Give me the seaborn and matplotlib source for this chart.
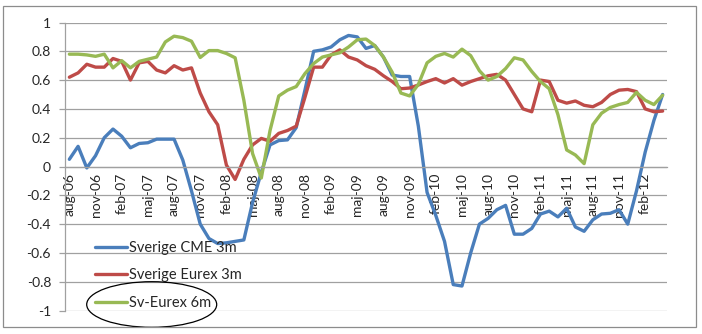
import matplotlib
matplotlib.use("Agg")
import matplotlib.pyplot as plt
import seaborn as sns
import pandas as pd
import numpy as np
from matplotlib.patches import Ellipse, Rectangle

# ---- data -------------------------------------------------------------
sv_months = ["jan", "feb", "mar", "apr", "maj", "jun", "jul", "aug",
             "sep", "okt", "nov", "dec"]
categories = [f"{sv_months[(7 + i) % 12]}-{6 + (7 + i) // 12:02d}" for i in range(69)]

tick_labels = ["aug-06", "nov-06", "feb-07", "maj-07", "aug-07", "nov-07",
               "feb-08", "maj-08", "aug-08", "nov-08", "feb-09", "maj-09",
               "aug-09", "nov-09", "feb-10", "maj-10", "aug-10", "nov-10",
               "feb-11", "maj-11", "aug-11", "nov-11", "feb-12"]

series_names = ["Sverige CME 3m", "Sverige Eurex 3m", "Sv-Eurex 6m"]

cme_3m = [0.05, 0.14, -0.01, 0.075, 0.2, 0.26, 0.21, 0.13, 0.16, 0.165,
          0.19, 0.19, 0.19, 0.045, -0.17, -0.4, -0.5, -0.535, -0.53, -0.52,
          -0.51, -0.25, -0.04, 0.15, 0.18, 0.185, 0.27, 0.53, 0.8, 0.81,
          0.83, 0.88, 0.91, 0.9, 0.82, 0.84, 0.76, 0.635, 0.625, 0.625,
          0.28, -0.18, -0.34, -0.52, -0.82, -0.83, -0.6, -0.4, -0.36, -0.3,
          -0.27, -0.47, -0.47, -0.43, -0.33, -0.31, -0.35, -0.29, -0.42, -0.45,
          -0.37, -0.33, -0.325, -0.3, -0.4, -0.17, 0.1, 0.32, 0.5]

eurex_3m = [0.62, 0.65, 0.71, 0.69, 0.69, 0.75, 0.73, 0.60, 0.72, 0.73,
            0.67, 0.65, 0.70, 0.67, 0.685, 0.51, 0.38, 0.29, 0.01, -0.09,
            0.05, 0.15, 0.195, 0.175, 0.23, 0.25, 0.28, 0.48, 0.69, 0.69,
            0.775, 0.81, 0.76, 0.74, 0.70, 0.675, 0.63, 0.59, 0.54, 0.545,
            0.566, 0.59, 0.61, 0.58, 0.61, 0.565, 0.59, 0.61, 0.63, 0.64,
            0.60, 0.50, 0.40, 0.38, 0.60, 0.59, 0.46, 0.44, 0.455, 0.425,
            0.415, 0.445, 0.50, 0.53, 0.535, 0.52, 0.40, 0.38, 0.385]

eurex_6m = [0.78, 0.78, 0.775, 0.765, 0.78, 0.685, 0.735, 0.685, 0.73, 0.745,
            0.76, 0.865, 0.905, 0.895, 0.87, 0.757, 0.805, 0.805, 0.785, 0.755,
            0.46, 0.09, -0.08, 0.25, 0.49, 0.53, 0.555, 0.645, 0.715, 0.76,
            0.775, 0.79, 0.83, 0.88, 0.885, 0.84, 0.76, 0.655, 0.51, 0.49,
            0.57, 0.72, 0.765, 0.785, 0.76, 0.815, 0.77, 0.665, 0.60, 0.625,
            0.68, 0.755, 0.74, 0.66, 0.59, 0.54, 0.36, 0.115, 0.08, 0.02,
            0.29, 0.37, 0.41, 0.43, 0.445, 0.515, 0.46, 0.43, 0.495]

colors = ["#4A7EBB", "#BE4B48", "#98B954"]

# ---- build long table --------------------------------------------------
frames = []
for name, vals in zip(series_names, [cme_3m, eurex_3m, eurex_6m]):
    frames.append(pd.DataFrame({"idx": np.arange(len(categories)),
                                "month": categories,
                                "value": vals,
                                "series": name}))
df = pd.concat(frames, ignore_index=True)

# ---- plot ---------------------------------------------------------------
sns.set_style("white")
plt.rcParams['font.family'] = ['Lato', 'DejaVu Sans']

W, H = 702, 334
fig = plt.figure(figsize=(W / 100, H / 100), dpi=100)
ax = fig.add_axes([65 / W, (H - 310.5) / H, 602 / W, 288 / H])

sns.lineplot(data=df, x="idx", y="value", hue="series", hue_order=series_names,
             palette=colors, linewidth=2.4, sort=False, estimator=None, ax=ax)
for ln in ax.lines:
    ln.set_solid_joinstyle("round")
    ln.set_solid_capstyle("round")

grid_c = "#A0A0A0"
ax.set_xlim(-0.5, len(categories) - 0.5)
ax.set_ylim(-1, 1)

yt = np.round(np.arange(-1, 1.001, 0.2), 1)
ax.set_yticks(yt)
ax.set_yticklabels([("%g" % v) if v != 0 else "0" for v in yt], fontsize=10)
ax.yaxis.grid(True, color=grid_c, lw=0.9)
ax.set_axisbelow(True)

# x axis crossing at zero
for s in ["top", "right"]:
    ax.spines[s].set_visible(False)
ax.spines["bottom"].set_position(("data", 0))
ax.spines["bottom"].set_color(grid_c)
ax.spines["bottom"].set_linewidth(0.9)
ax.spines["left"].set_color(grid_c)
ax.spines["left"].set_linewidth(0.9)

ax.set_xticks(np.arange(-0.5, len(categories), 3))
ax.set_xticklabels([])
ax.set_xticks(np.arange(0, len(categories), 3)[:len(tick_labels)], minor=True)
ax.set_xticklabels(tick_labels, minor=True, rotation=90, fontsize=10,
                   va="top", ha="center")
ax.tick_params(axis="x", which="major", direction="out", length=4,
               width=0.9, color=grid_c)
ax.tick_params(axis="x", which="minor", length=0, pad=4.5)
ax.tick_params(axis="y", direction="out", length=4, width=0.9, color=grid_c,
               pad=6, left=True)
ax.set_xlabel("")
ax.set_ylabel("")

# legend
handles, labels = ax.get_legend_handles_labels()
ax.legend(handles, labels, loc="center left",
          bbox_to_anchor=(95 / W, (H - 275.5) / H), bbox_transform=fig.transFigure,
          frameon=False, borderpad=0, borderaxespad=0, handlelength=2.2,
          handletextpad=0.15, labelspacing=0.95, fontsize=10.5)

# hand-drawn ellipse around the third legend entry
fig.add_artist(Ellipse((151.7 / W, (H - 304.5) / H), 130 / W, 45.6 / H,
                       transform=fig.transFigure, fill=False, ec="black", lw=0.9))

# chart border
fig.add_artist(Rectangle((3 / W, (H - 327) / H), 693 / W, 321 / H,
                         transform=fig.transFigure, fill=False, ec="#8C8C8C", lw=0.9))

fig.savefig("out.png", dpi=100)
